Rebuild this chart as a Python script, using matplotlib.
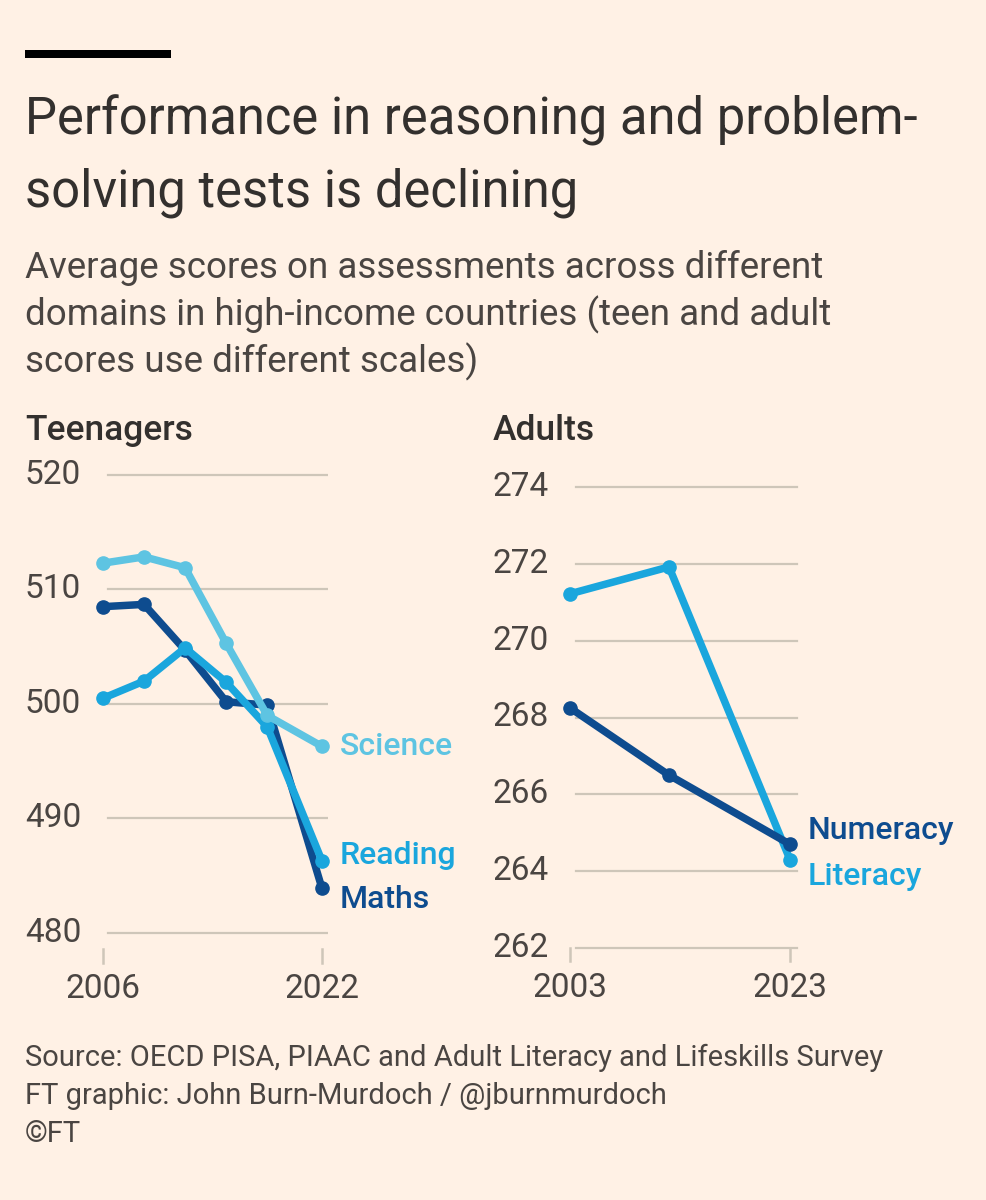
import numpy as np
import matplotlib.pyplot as plt
from matplotlib.transforms import blended_transform_factory

# teenagers (PISA)
teen_years = [2006, 2009, 2012, 2015, 2018, 2022]
maths = [508.5, 508.7, 504.7, 500.2, 499.9, 483.9]
reading = [500.5, 502.0, 504.9, 501.9, 498.0, 486.3]
science = [512.3, 512.85, 511.9, 505.3, 499.0, 496.3]
teen_ticks = [480, 490, 500, 510, 520]

# adults (ALL / PIAAC)
adult_years = [2003, 2012, 2023]
numeracy = [268.25, 266.5, 264.7]
literacy = [271.22, 271.92, 264.3]
adult_ticks = [262, 264, 266, 268, 270, 272, 274]

BG = '#FFF1E5'
TXT = '#33302E'
GREY = '#4A4542'
GRID = '#CEC6B9'
DARK = '#0E4C8F'
MID = '#1AA6DD'
LIGHT = '#5EC4E2'
FONT = 'Roboto'

W, H = 986, 1200
fig = plt.figure(figsize=(W / 100, H / 100), dpi=100, facecolor=BG)
plt.rcParams['font.family'] = [FONT, 'DejaVu Sans']


def fx(px):
    return px / W


def fy(py):
    return 1 - py / H


def put_axes(left, top, right, bottom):
    ax = fig.add_axes([fx(left), fy(bottom), (right - left) / W, (bottom - top) / H])
    ax.set_facecolor('none')
    for s in ax.spines.values():
        s.set_visible(False)
    ax.set_xticks([])
    ax.set_yticks([])
    return ax


# header
fig.add_artist(plt.Rectangle((fx(25), fy(58)), fx(171) - fx(25), 8 / H,
                             transform=fig.transFigure, color='black', lw=0))
fig.text(fx(25), fy(135), 'Performance in reasoning and problem-', fontsize=36.5,
         color=TXT, va='baseline')
fig.text(fx(25), fy(207), 'solving tests is declining', fontsize=36.5, color=TXT,
         va='baseline')
sub = ['Average scores on assessments across different',
       'domains in high-income countries (teen and adult',
       'scores use different scales)']
for i, line in enumerate(sub):
    fig.text(fx(25), fy(278 + 47 * i), line, fontsize=26.5, color=GREY,
             va='baseline')

fig.text(fx(25), fy(440), 'Teenagers', fontsize=25.5, color=TXT, weight='medium',
         va='baseline')
fig.text(fx(493), fy(440), 'Adults', fontsize=25.5, color=TXT, weight='medium',
         va='baseline')

foot = ['Source: OECD PISA, PIAAC and Adult Literacy and Lifeskills Survey',
        'FT graphic: John Burn-Murdoch / @jburnmurdoch',
        '\u00a9FT']
for i, line in enumerate(foot):
    fig.text(fx(25), fy(1066 + 38 * i), line, fontsize=21, color=GREY,
             va='baseline')

lw = 5.4
ms = 9.5
tick_fs = 24
lab_fs = 23

# teen panel
ax1 = put_axes(98, 475 - 2 * 11.45, 328, 933 + 2 * 11.45)
ax1.set_xlim(2005.635, 2022.44)
ax1.set_ylim(478, 522)
for t in teen_ticks:
    ax1.axhline(t, xmin=10 / 230, xmax=1, color=GRID, lw=1.6, zorder=0)
tr1 = blended_transform_factory(fig.transFigure, ax1.transData)
for t in teen_ticks:
    ax1.text(fx(25), t, str(t), transform=tr1, fontsize=tick_fs, color=GREY,
             va='center', ha='left')
for s, c, z in [(maths, DARK, 2), (reading, MID, 3), (science, LIGHT, 4)]:
    ax1.plot(teen_years, s, color=c, lw=lw, marker='o', ms=ms, zorder=z,
             clip_on=False, solid_joinstyle='round', solid_capstyle='round')
for yr in [teen_years[0], teen_years[-1]]:
    ax1.plot([yr, yr], [478.6, 477.4], color=GRID, lw=1.8, clip_on=False)
    ax1.text(yr, 475.1, str(yr), fontsize=tick_fs, color=GREY, ha='center',
             va='center', clip_on=False)
for name, s, c, dy in [('Science', science, LIGHT, 0), ('Reading', reading, MID, 0.5),
                       ('Maths', maths, DARK, -1.0)]:
    ax1.text(teen_years[-1] + 1.3, s[-1] + dy, name, color=c, fontsize=lab_fs,
             weight='medium', va='center', ha='left', clip_on=False)

# adult panel
ax2 = put_axes(566, 487 - 0.5 * 38.4, 800, 948 + 0.5 * 38.4)
ax2.set_xlim(2002.636, 2023.909)
ax2.set_ylim(261.5, 274.5)
for t in adult_ticks:
    ax2.axhline(t, xmin=10 / 234, xmax=231 / 234, color=GRID, lw=1.6, zorder=0)
tr2 = blended_transform_factory(fig.transFigure, ax2.transData)
for t in adult_ticks:
    ax2.text(fx(493), t, str(t), transform=tr2, fontsize=tick_fs, color=GREY,
             va='center', ha='left')
for s, c, z in [(numeracy, DARK, 3), (literacy, MID, 2)]:
    ax2.plot(adult_years, s, color=c, lw=lw, marker='o', ms=ms, zorder=z,
             clip_on=False, solid_joinstyle='round', solid_capstyle='round')
for yr in [adult_years[0], adult_years[-1]]:
    ax2.plot([yr, yr], [262, 261.65], color=GRID, lw=1.8, clip_on=False)
    ax2.text(yr, 260.97, str(yr), fontsize=tick_fs, color=GREY, ha='center',
             va='center', clip_on=False)
for name, s, c, dy in [('Numeracy', numeracy, DARK, 0.35), ('Literacy', literacy, MID, -0.45)]:
    ax2.text(adult_years[-1] + 1.6, s[-1] + dy, name, color=c, fontsize=lab_fs,
             weight='medium', va='center', ha='left', clip_on=False)

fig.savefig('out.png', dpi=100, facecolor=BG)
